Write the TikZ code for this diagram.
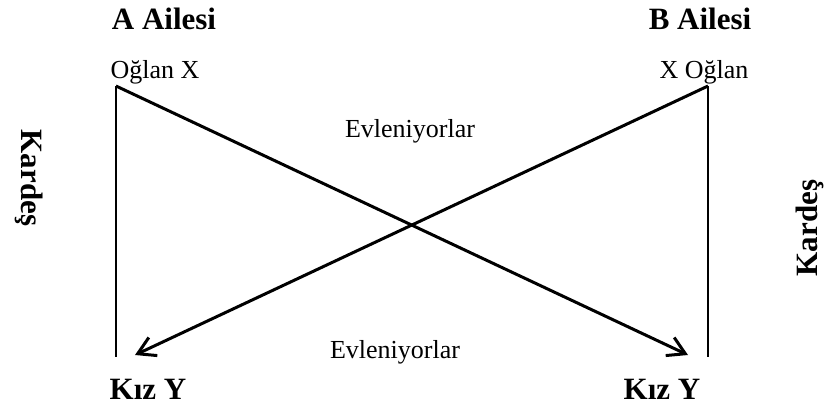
\documentclass[tikz,border=0pt]{standalone}
\usepackage{fontspec}
\setmainfont{Liberation Serif}
\usetikzlibrary{arrows.meta}
\tikzset{
    aile/.style={font=\fontsize{15.5}{18}\selectfont\bfseries, inner sep=0pt, anchor=base},
    yazi/.style={font=\fontsize{13}{16}\selectfont, inner sep=0pt, anchor=base},
    evlilik/.style={line width=1.5pt, -{Straight Barb[length=8.5pt,width=10pt,line width=1.5pt]}},
    kardes/.style={line width=1pt}
}
\begin{document}
\begin{tikzpicture}[x=0.5pt,y=-0.5pt]
        \useasboundingbox (0,0) rectangle (829,408);
        \node[aile] (aA) at (164,29) {A Ailesi};
        \node[aile] (aB) at (700,29) {B Ailesi};
        \node[yazi] (oA) at (155,78) {Oğlan X};
        \node[yazi] (oB) at (704,78) {X Oğlan};
        \coordinate (ustA) at (116,86);
        \coordinate (ustB) at (708,86);
        \coordinate (altA) at (116,357);
        \coordinate (altB) at (708,357);
        \coordinate (ucA) at (135,355);
        \coordinate (ucB) at (688,355);
        \draw[kardes] (ustA) -- (altA);
        \draw[kardes] (ustB) -- (altB);
        \draw[evlilik] (ustA) -- (ucB);
        \draw[evlilik] (ustB) -- (ucA);
        \node[yazi] (e1) at (410,137) {Evleniyorlar};
        \node[yazi] (e2) at (395,358) {Evleniyorlar};
        \node[aile] (kA) at (148,399) {Kız Y};
        \node[aile] (kB) at (662,399) {Kız Y};
        \node[aile, anchor=center, rotate=-90] (kdA) at (29,178) {Kardeş};
        \node[aile, anchor=center, rotate=90] (kdB) at (810,228) {Kardeş};
    \end{tikzpicture}
\end{document}
